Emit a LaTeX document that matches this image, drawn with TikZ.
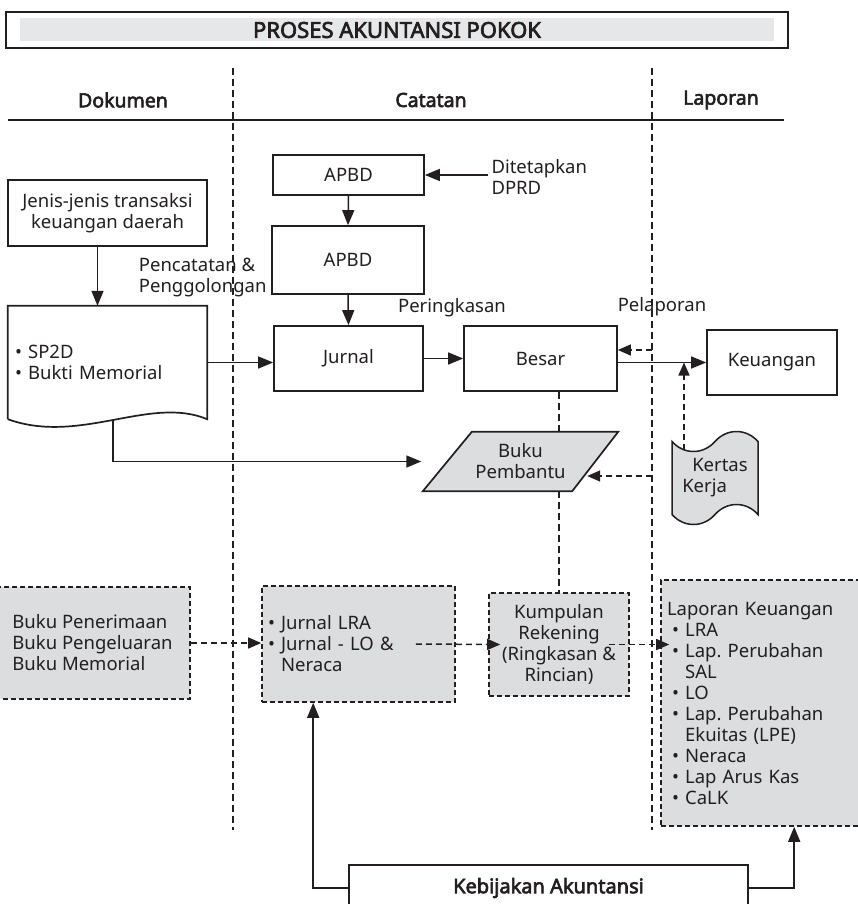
\documentclass[tikz,border=0pt]{standalone}
\usepackage{fontspec}
\setmainfont{Noto Sans}[BoldFont={Noto Sans}, BoldFeatures={FakeBold=3}]
\usetikzlibrary{arrows.meta,calc,shapes.symbols}

\definecolor{ink}{HTML}{231F20}
\definecolor{boxgrey}{HTML}{DCDDDF}
\definecolor{bandgrey}{HTML}{E6E7E8}

\newcommand\lkitem{\hspace*{5pt}\textbullet\ }
\newcommand\lkcont{\hspace*{5pt}\hphantom{\textbullet\ }}

\tikzset{
	box/.style={draw=ink, line width=1.7pt, fill=white},
	dbox/.style={draw=ink, line width=1.6pt, dash pattern=on 5pt off 3pt, fill=boxgrey},
	link/.style={draw=ink, line width=1.5pt, -{Triangle[length=15pt,width=12pt]}},
	dlink/.style={draw=ink, line width=1.5pt, dash pattern=on 6pt off 4pt, -{Triangle[length=13pt,width=11pt]}},
	guide/.style={draw=ink, line width=1.9pt, dash pattern=on 7pt off 4pt},
	hdr/.style={font=\bfseries\fontsize{19.5}{23}\selectfont}
}

\begin{document}
\frenchspacing
\begin{tikzpicture}[x=1pt, y=-1pt, font=\fontsize{18.5}{21}\selectfont, text=ink]
		\useasboundingbox (0,0) rectangle (857,904);

		% judul dan kolom
		\draw[ink, line width=1.9pt] (6,12) rectangle (788,48);
		\fill[bandgrey] (20,18) rectangle (774,41);
		\node (title) [hdr, font=\bfseries\fontsize{22}{26}\selectfont] at (397,30) {PROSES AKUNTANSI POKOK};
		\node (dokumen) [hdr] at (123,100) {Dokumen};
		\node (catatan) [hdr] at (431,100) {Catatan};
		\node (laporan) [hdr] at (721,100) {Laporan};
		\draw[ink, line width=2.2pt] (8,120) -- (784,120);
		\draw[guide] (233,68) -- (233,830);
		\draw[guide] (652,68) -- (652,830);

		% bagian atas
		\node (jenis) [box, minimum width=199, minimum height=66, align=center] at (107.5,213) {Jenis-jenis transaksi\\keuangan daerah};
		\node (sp2d) [minimum width=199, minimum height=113] at (107.5,362.5) {};
		\draw[ink, line width=1.7pt, fill=white] (sp2d.south west) -- (sp2d.north west) -- (sp2d.north east) -- (sp2d.south east) .. controls +(-57,-24) and +(72,26) .. (sp2d.south west);
		\node at (sp2d) [text width=185, align=left] {\textbullet\ SP2D\\\textbullet\ Bukti Memorial};

		\node (apbd) [box, minimum width=151, minimum height=40] at (348.5,175) {APBD};
		\node (apbdp) [box, minimum width=152, minimum height=68] at (348,260) {APBD};
		\node (jurnal) [box, minimum width=149, minimum height=65] at (348.5,358.5) {Jurnal};
		\node (besar) [box, minimum width=153, minimum height=65] at (540.5,358.5) {Besar};
		\node (keuangan) [box, minimum width=130, minimum height=65] at (772,362.5) {Keuangan};
		\node (pembantu) [minimum width=146, minimum height=59] at (520.5,461.5) {};
		\draw[ink, line width=1.7pt, fill=boxgrey] ($(pembantu.north west)+(24.5,0)$) -- ($(pembantu.north east)+(24.5,0)$) -- ($(pembantu.south east)+(-21.5,0)$) -- ($(pembantu.south west)+(-24.5,0)$) -- cycle;
		\node at (pembantu) [align=center] {Buku\\Pembantu};
		\node (kertas) [tape, tape bend height=20, draw=ink, line width=1.5pt, fill=boxgrey, minimum width=86, minimum height=93, align=left] at (715,478) {\hspace*{10pt}Kertas\\Kerja};

		\node (ditetapkan) [anchor=west, align=left] at (488,177) {Ditetapkan\\DPRD};
		\node (pencatatan) [anchor=east, align=left] at (270,278) {Pencatatan \&\\Penggolongan};
		\node (peringkasan) at (452,308) {Peringkasan};
		\node (pelaporan) at (662,307) {Pelaporan};

		% bagian bawah
		\node (bukupen) [dbox, minimum width=195, minimum height=112, align=left] at (92.5,643) {Buku Penerimaan\\Buku Pengeluaran\\Buku Memorial};
		\node (jlra) [dbox, minimum width=193, minimum height=116, text width=181, inner sep=6pt, align=left] at (358.5,644) {\textbullet\ Jurnal LRA\\\textbullet\ Jurnal - LO \&\\\hphantom{\textbullet\ }Neraca};
		\node (kumpulan) [dbox, minimum width=140, minimum height=103, align=center] at (559,644.5) {Kumpulan\\Rekening\\(Ringkasan \&\\Rincian)};
		\node (lapkeu) [dbox, minimum width=201, minimum height=246, text width=189, inner sep=6pt, align=left] at (761.5,703) {Laporan Keuangan\\\lkitem LRA\\\lkitem Lap. Perubahan\\\lkcont SAL\\\lkitem LO\\\lkitem Lap. Perubahan\\\lkcont Ekuitas (LPE)\\\lkitem Neraca\\\lkitem Lap Arus Kas\\\lkitem CaLK};
		\node (kebijakan) [box, minimum width=399, minimum height=46, hdr, font=\bfseries\fontsize{20}{23}\selectfont] at (548.5,888) {Kebijakan Akuntansi};

		% panah
		\draw[link] (ditetapkan.west |- apbd.east) -- (apbd.east);
		\draw[link] (apbd.south) -- (apbdp.north);
		\draw[link] (apbdp.south) -- (jurnal.north);
		\draw[link] ($(jenis.south)+(-10,0)$) -- ($(sp2d.north)+(-10,0)$);
		\draw[link] (sp2d.east) -- (sp2d.east -| jurnal.west);
		\draw[link] (jurnal.east) -- (besar.west);
		\draw[link] (besar.east |- keuangan.west) -- (keuangan.west);
		\draw[link] ($(sp2d.south)+(5.5,1)$) |- ($(pembantu.west)+(-26,0)$);

		\draw[guide] ($(sp2d.south)+(-41.5,6)$) -- ($(sp2d.south)+(-41.5,6)$ |- bukupen.north);
		\draw[guide] ($(jurnal.south)+(-5,0)$) -- ($(jurnal.south)+(-5,0)$ |- jlra.north);
		\draw[guide] (kumpulan.north |- besar.south) -- (kumpulan.north |- pembantu.north);
		\draw[guide] (kumpulan.north |- pembantu.south) -- (kumpulan.north);

		\coordinate (lapb) at (652,350);
		\coordinate (lapp) at (652,476);
		\coordinate (kkt) at (684,450);
		\draw[dlink] (lapb) -- (lapb -| besar.east);
		\draw[dlink] (lapp) -- ($(pembantu.east)+(-6.5,14.5)$);
		\draw[dlink] (kkt) -- (kkt |- keuangan.west);
		\draw[dlink] (bukupen.east) -- (bukupen.east -| jlra.west);
		\draw[dlink] ($(jlra.east)+(-40,0)$) -- ($(kumpulan.west)+(12,0)$);
		\draw[dlink] ($(kumpulan.east)+(-21,0)$) -- ($(kumpulan.east -| lapkeu.west)+(9,0)$);

		\draw[link] (kebijakan.west) -| ($(jlra.south west)+(52,0)$);
		\draw[link] (kebijakan.east) -| ($(lapkeu.south west)+(134,0)$);
\end{tikzpicture}
\end{document}
